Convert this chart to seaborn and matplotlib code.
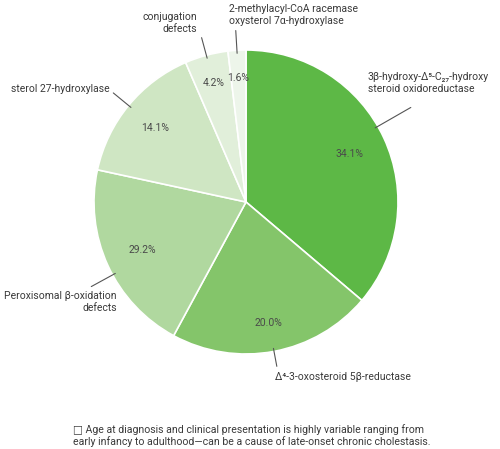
import matplotlib
matplotlib.use("Agg")
import matplotlib.pyplot as plt
import seaborn as sns
import numpy as np

# slice sizes as drawn in the picture (the printed percentages differ slightly)
slice_sizes = [36.2, 21.7, 20.5, 15.1, 4.6, 1.9]
pct_labels = ["34.1%", "20.0%", "29.2%", "14.1%", "4.2%", "1.6%"]
categories = [
    "3\u03b2-hydroxy-\u0394\u2075-C\u2082\u2087-hydroxy\nsteroid oxidoreductase",
    "\u0394\u2074-3-oxosteroid 5\u03b2-reductase",
    "Peroxisomal \u03b2-oxidation\ndefects",
    "sterol 27-hydroxylase",
    "conjugation\ndefects",
    "2-methylacyl-CoA racemase\noxysterol 7\u03b1-hydroxylase",
]
colors = ["#5db846", "#84c56a", "#b0d89f", "#cfe6c3", "#e1efda", "#edf5ea"]
footnote = ("\u25a1 Age at diagnosis and clinical presentation is highly variable ranging from\n"
            "early infancy to adulthood\u2014can be a cause of late-onset chronic cholestasis.")

sns.set_style("white")
plt.rcParams['font.family'] = ['Roboto', 'DejaVu Sans']

W, H = 500, 449
CX, CY, R = 246, 202, 152

def to_data(px, py):
    return (px - CX) / R, (CY - py) / R

fig = plt.figure(figsize=(W / 100, H / 100), dpi=100)
ax = fig.add_axes([0, 0, 1, 1])

wedges, _ = ax.pie(slice_sizes, colors=colors, startangle=90, counterclock=False,
                   wedgeprops=dict(edgecolor="white", linewidth=1.2))

ax.set_xlim(-CX / R, (W - CX) / R)
ax.set_ylim(-(H - CY) / R, CY / R)
ax.set_aspect("auto")
ax.axis("off")

# percentage labels inside the wedges
pct_r = [0.75, 0.81, 0.75, 0.77, 0.81, 0.82]
for w, lab, r in zip(wedges, pct_labels, pct_r):
    a = np.deg2rad((w.theta1 + w.theta2) / 2)
    ax.text(r * np.cos(a), r * np.sin(a), lab, ha="center", va="center",
            fontsize=7.5, color="#4a4a4a")

# leader lines and category labels
line_out = [1.25, 1.10, 1.16, 1.13, 1.12, 1.13]
angle_shift = [5, 0, 4, 0, 0, 0]
label_pos = [(368, 83, "left"), (275, 377, "left"), (117, 302, "right"),
             (110, 89, "right"), (197, 23, "right"), (229, 15, "left")]
for w, name, ro, sh, (px, py, ha) in zip(wedges, categories, line_out, angle_shift, label_pos):
    a = np.deg2rad((w.theta1 + w.theta2) / 2 + sh)
    ax.plot([0.98 * np.cos(a), ro * np.cos(a)], [0.98 * np.sin(a), ro * np.sin(a)],
            color="#555555", lw=0.8)
    x, y = to_data(px, py)
    ax.text(x, y, name, ha=ha, va="center", fontsize=7.5, color="#3a3a3a",
            multialignment=ha, linespacing=1.15)

fig.text(73 / W, 1 - 435.5 / H, footnote, ha="left", va="center", fontsize=7.6,
         color="#3a3a3a", linespacing=1.2)

fig.savefig("out.png", dpi=100)
